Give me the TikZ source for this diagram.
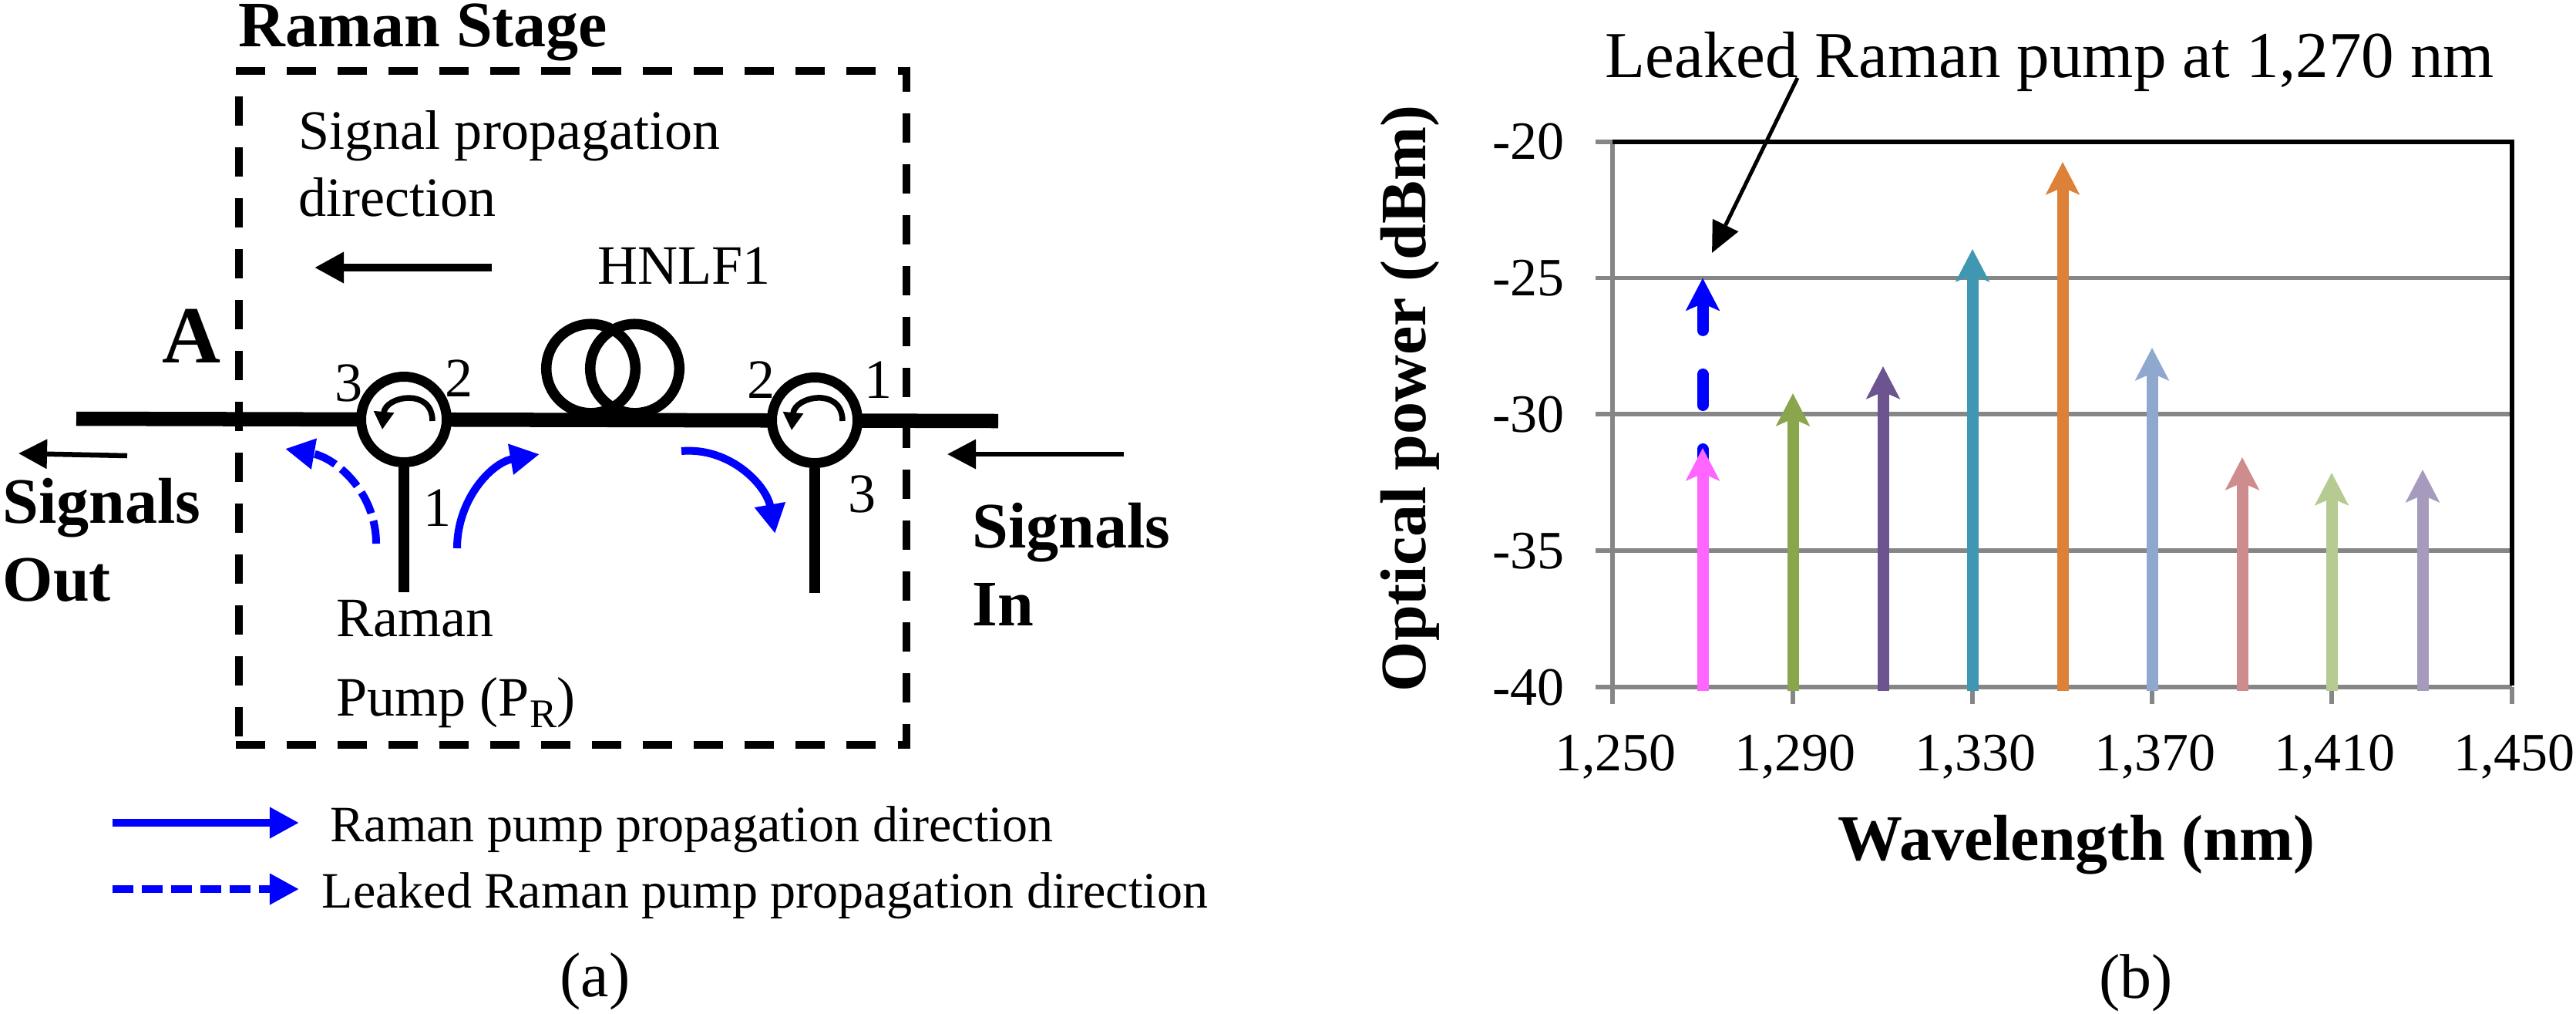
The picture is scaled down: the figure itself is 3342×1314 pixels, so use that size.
\documentclass[tikz,border=0pt]{standalone}
\usepackage{fontspec}
\setmainfont{Liberation Serif}
\usetikzlibrary{
	arrows.meta
	}
\definecolor{gris-grille}{HTML}{868686}
\definecolor{bleu-pompe}{HTML}{0000FF}
\tikzstyle{texte-std}=[inner sep=0pt,anchor=base west,font=\fontsize{20.5}{20.5}\selectfont]
\tikzstyle{texte-leg}=[texte-std,font=\fontsize{18.8}{18.8}\selectfont]
\tikzstyle{texte-gras}=[texte-std,font=\fontsize{23.9}{23.9}\selectfont\bfseries]
\tikzstyle{texte-axe}=[inner sep=0pt,font=\fontsize{19.9}{19.9}\selectfont]
\tikzstyle{texte-sous}=[inner sep=0pt,anchor=base,font=\fontsize{23.3}{23.3}\selectfont]
\tikzstyle{noeud-circ}=[draw,fill=white,circle,inner sep=0pt,line width=0.13cm,minimum size=1.11cm]
\tikzstyle{noeud-bobine}=[draw,circle,inner sep=0pt,line width=0.135cm,minimum size=1.155cm]
\tikzstyle{fleche-noire}=[-{Triangle[length=0.38cm,width=0.38cm]},line width=0.1cm]
\tikzstyle{fleche-fine}=[-{Triangle[length=0.37cm,width=0.37cm]},line width=0.065cm]
\tikzstyle{fleche-bleue}=[bleu-pompe,-{Triangle[length=0.38cm,width=0.38cm]},line width=0.1cm]
\tikzstyle{fleche-rond}=[-{Triangle[length=0.23cm,width=0.25cm]},line width=0.075cm]
\tikzstyle{raie}=[-{Stealth[length=0.42cm,width=0.43cm,inset=0.09cm]},line width=0.15cm]
\tikzstyle{grille}=[gris-grille,line width=0.055cm]
\begin{document}
\begin{tikzpicture}[x=0.01cm,y=-0.01cm]
\useasboundingbox (0,0) rectangle (3342,1314);

% (a)
\draw[line width=0.095cm,dash pattern=on 0.38cm off 0.28cm] (306,92) -- (1176,92) -- (1176,971);
\draw[line width=0.095cm,dash pattern=on 0.38cm off 0.28cm] (310,125) -- (310,955);
\draw[line width=0.095cm,dash pattern=on 0.38cm off 0.28cm] (306,966) -- (1176,966);

\node[noeud-bobine] (bobine1) at (766.5,478) {};
\node[noeud-bobine] (bobine2) at (823.5,478) {};

\coordinate (fibre0) at (99,543);
\coordinate (fibre1) at (1295,546);
\coordinate (pompe1) at (524,768);
\coordinate (pompe2) at (1057,769);
\draw[line width=0.185cm] (fibre0) -- (fibre1);
\node[noeud-circ] (circ1) at (524,544) {};
\node[noeud-circ] (circ2) at (1057,545) {};
\draw[line width=0.14cm] (circ1.south) -- (pompe1);
\draw[line width=0.14cm] (circ2.south) -- (pompe2);

\coordinate (rond1a) at (561,546);
\coordinate (rond1b) at (496,557);
\coordinate (rond2a) at (1093,546);
\coordinate (rond2b) at (1027,558);
\draw[fleche-rond] (rond1a) to[out=90,in=85,looseness=1.7] (rond1b);
\draw[fleche-rond] (rond2a) to[out=90,in=85,looseness=1.7] (rond2b);

\node[texte-std] (port13) at (434,520) {3};
\node[texte-std] (port12) at (577,514) {2};
\node[texte-std] (port11) at (549,682) {1};
\node[texte-std] (port22) at (969,516) {2};
\node[texte-std] (port21) at (1121,516) {1};
\node[texte-std] (port23) at (1100,664) {3};

\node[texte-gras] (titre) at (309,60) {Raman Stage};
\node[texte-std] (signal1) at (387,193) {Signal propagation};
\node[texte-std] (signal2) at (387,280) {direction};
\node[texte-std] (hnlf) at (775,368) {HNLF1};
\node[texte-gras,font=\fontsize{29.9}{29.9}\selectfont\bfseries] (pointA) at (210,470) {A};
\node[texte-std] (pompe3) at (436,825) {Raman};
\node[texte-std] (pompe4) at (436,928) {Pump (P\raisebox{-0.22em}{\fontsize{15}{15}\selectfont R})};
\node[texte-gras] (sortie1) at (3,678) {Signals};
\node[texte-gras] (sortie2) at (3,779) {Out};
\node[texte-gras] (entree1) at (1261,710) {Signals};
\node[texte-gras] (entree2) at (1261,811) {In};

\coordinate (sens0) at (638,347);
\coordinate (sens1) at (408,347);
\draw[fleche-noire] (sens0) -- (sens1);
\coordinate (sortie3) at (165,591);
\coordinate (sortie4) at (24,588);
\draw[fleche-fine] (sortie3) -- (sortie4);
\coordinate (entree3) at (1458,589);
\coordinate (entree4) at (1229,589);
\draw[fleche-fine] (entree3) -- (entree4);

\coordinate (bleu0) at (488,705);
\coordinate (bleu1) at (370,582);
\coordinate (bleu2) at (593,711);
\coordinate (bleu3) at (700,589);
\coordinate (bleu4) at (884,585);
\coordinate (bleu5) at (1005.5,692);
\draw[fleche-bleue,dash pattern=on 0.3cm off 0.1cm] (bleu0) to[out=90,in=-10] (bleu1);
\draw[fleche-bleue] (bleu2) to[out=90,in=190] (bleu3);
\draw[fleche-bleue] (bleu4) to[out=5,in=100] (bleu5);

\coordinate (leg0) at (146,1067);
\coordinate (leg1) at (388,1067);
\coordinate (leg2) at (146,1153);
\coordinate (leg3) at (388,1153);
\draw[fleche-bleue] (leg0) -- (leg1);
\draw[fleche-bleue,dash pattern=on 0.27cm off 0.11cm] (leg2) -- (leg3);
\node[texte-leg] (leg4) at (428,1091) {Raman pump propagation direction};
\node[texte-leg] (leg5) at (417,1177) {Leaked Raman pump propagation direction};
\node[texte-sous] (souspartA) at (772,1292) {(a)};

% (b)
\draw[grille] (2070,360.5) -- (3259,360.5);
\draw[grille] (2070,537) -- (3259,537);
\draw[grille] (2070,714) -- (3259,714);
\draw[grille] (2070,891) -- (3259,891);
\draw[grille] (2070,184) -- (2092,184);
\draw[grille] (2092,184) -- (2092,913);
\draw[grille] (2326,891) -- (2326,913);
\draw[grille] (2559,891) -- (2559,913);
\draw[grille] (2792,891) -- (2792,913);
\draw[grille] (3025,891) -- (3025,913);
\draw[grille] (3259,891) -- (3259,913);
\draw[line width=0.055cm] (2092,184) -- (3259,184) -- (3259,889);

\draw[raie,bleu-pompe,line cap=round,dash pattern=on 0.4cm off 0.57cm] (2209,622.5) -- (2209,360.5);
\draw[raie,color={rgb,255:red,255;green,102;blue,255}] (2209,896) -- (2209,581);
\draw[raie,color={rgb,255:red,138;green,166;blue,77}] (2326,896) -- (2326,510);
\draw[raie,color={rgb,255:red,107;green,84;blue,144}] (2443,896) -- (2443,475);
\draw[raie,color={rgb,255:red,63;green,151;blue,177}] (2559,896) -- (2559,323);
\draw[raie,color={rgb,255:red,220;green,129;blue,55}] (2676,896) -- (2676,210);
\draw[raie,color={rgb,255:red,142;green,168;blue,206}] (2792,896) -- (2792,451);
\draw[raie,color={rgb,255:red,206;green,140;blue,140}] (2909,896) -- (2909,593);
\draw[raie,color={rgb,255:red,181;green,203;blue,146}] (3025,896) -- (3025,613);
\draw[raie,color={rgb,255:red,166;green,154;blue,189}] (3143,896) -- (3143,609);

\node[texte-axe,anchor=base east] (ordo0) at (2030,206) {-20};
\node[texte-axe,anchor=base east] (ordo1) at (2030,383) {-25};
\node[texte-axe,anchor=base east] (ordo2) at (2030,560) {-30};
\node[texte-axe,anchor=base east] (ordo3) at (2030,737) {-35};
\node[texte-axe,anchor=base east] (ordo4) at (2030,914) {-40};
\node[texte-axe,anchor=base] (absc0) at (2096,999) {1,250};
\node[texte-axe,anchor=base] (absc1) at (2329,999) {1,290};
\node[texte-axe,anchor=base] (absc2) at (2563,999) {1,330};
\node[texte-axe,anchor=base] (absc3) at (2796,999) {1,370};
\node[texte-axe,anchor=base] (absc4) at (3029,999) {1,410};
\node[texte-axe,anchor=base] (absc5) at (3262,999) {1,450};
\node[texte-gras] (titrex) at (2384,1115) {Wavelength (nm)};
\node[texte-gras,rotate=90] (titrey) at (1849,898) {Optical power (dBm)};

\node[texte-std,font=\fontsize{24.2}{24.2}\selectfont] (fuite) at (2082,100) {Leaked Raman pump at 1,270 nm};
\coordinate (fuite0) at (2332,101);
\coordinate (fuite1) at (2221,328);
\draw[-{Triangle[length=0.4cm,width=0.36cm]},line width=0.05cm] (fuite0) -- (fuite1);
\node[texte-sous] (souspartB) at (2771,1294) {(b)};
\end{tikzpicture}
\end{document}
